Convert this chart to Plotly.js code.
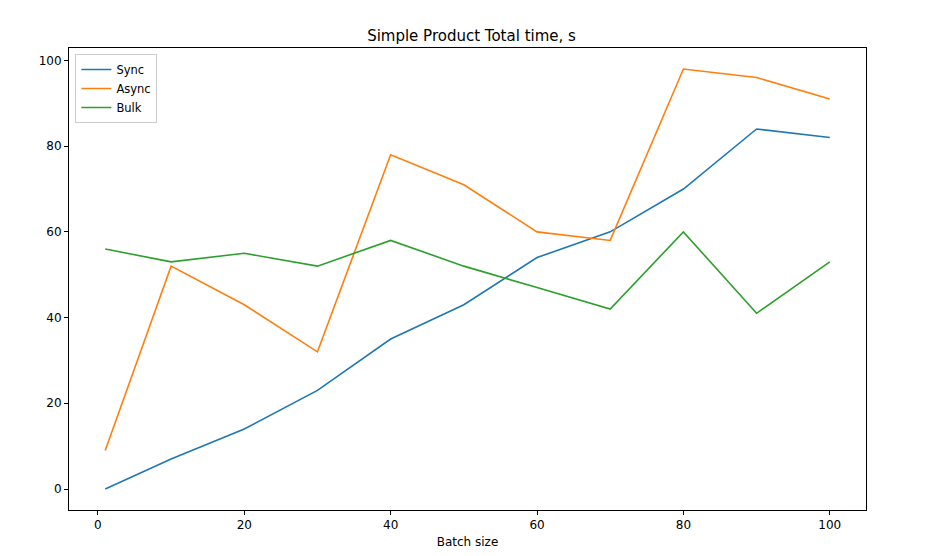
<!DOCTYPE html>
<html>
<head>
<meta charset="utf-8">
<script src="https://cdn.plot.ly/plotly-3.0.1.min.js"></script>
<style>html,body{margin:0;padding:0;background:#fff;}#chart{width:943px;height:556px;}</style>
</head>
<body>
<div id="chart"></div>
<script>
const batchSize = [1, 10, 20, 30, 40, 50, 60, 70, 80, 90, 100];
const syncTime  = [0, 7, 14, 23, 35, 43, 54, 60, 70, 84, 82];
const asyncTime = [9, 52, 43, 32, 78, 71, 60, 58, 98, 96, 91];
const bulkTime  = [56, 53, 55, 52, 58, 52, 47, 42, 60, 41, 53];
const tickVals = [0, 20, 40, 60, 80, 100];

const mk = (name, y, color) => ({
  x: batchSize, y: y, name: name, type: 'scatter', mode: 'lines',
  line: {color: color, width: 1.6}
});

const data = [
  mk('Sync', syncTime, '#1f77b4'),
  mk('Async', asyncTime, '#ff7f0e'),
  mk('Bulk', bulkTime, '#2ca02c')
];

const axisCommon = {
  showgrid: false, zeroline: false, showline: true, mirror: true,
  linecolor: '#000', linewidth: 1, ticks: 'outside', ticklen: 4,
  tickcolor: '#000', tickfont: {size: 12, color: '#000'},
  tickvals: tickVals
};

const layout = {
  width: 943, height: 556,
  margin: {l: 69, r: 77, t: 48, b: 46},
  paper_bgcolor: '#fff', plot_bgcolor: '#fff',
  font: {family: 'DejaVu Sans', color: '#000'},
  title: {text: 'Simple Product Total time, s', font: {size: 15}, x: 0.5, xanchor: 'center', y: 0.935, yanchor: 'middle'},
  xaxis: Object.assign({}, axisCommon, {range: [-3.95, 104.95], title: {text: 'Batch size', font: {size: 12}, standoff: 6}}),
  yaxis: Object.assign({}, axisCommon, {range: [-4.9, 102.9]}),
  showlegend: true,
  legend: {x: 0.008, y: 0.987, xanchor: 'left', yanchor: 'top', bgcolor: 'rgba(255,255,255,0.8)',
           bordercolor: '#ccc', borderwidth: 1, font: {size: 11.5}, tracegroupgap: 0}
};

Plotly.newPlot('chart', data, layout, {displayModeBar: false, staticPlot: true});
</script>
</body>
</html>
